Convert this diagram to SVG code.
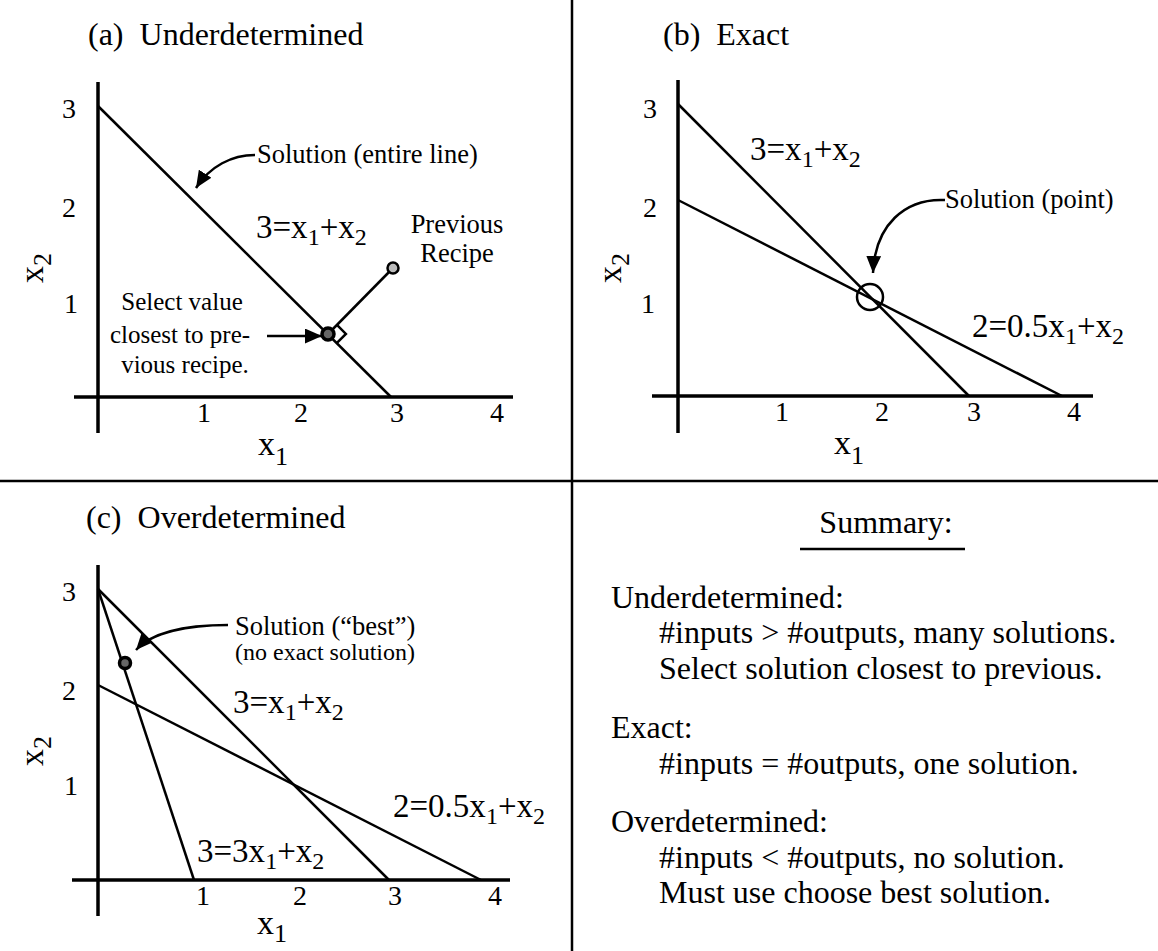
<svg xmlns="http://www.w3.org/2000/svg" width="1158" height="951" viewBox="0 0 1158 951">
<style>
text{font-family:"Liberation Serif","Times New Roman",serif;fill:#000}
.title{font-size:32px}
.tick{font-size:28px}
.axl{font-size:34px}
.axs{font-size:26px}
.eq{font-size:33px}
.sub{font-size:24px}
.ann{font-size:26.5px}
.sel{font-size:25px}
.ann2{font-size:24px}
.sum{font-size:32px}
.axis{stroke:#000;stroke-width:3.5;fill:none}
.ln{stroke:#000;stroke-width:2.5;fill:none}
.div{stroke:#000;stroke-width:2.5;fill:none}
.dot{fill:#666;stroke:#000;stroke-width:3.5}
</style>
<defs>
<marker id="ah" viewBox="0 0 16 14" refX="16" refY="7" markerWidth="17" markerHeight="15" markerUnits="userSpaceOnUse" orient="auto">
<path d="M0,0 L16,7 L0,14 Z" fill="#000"/>
</marker>
</defs>
<rect width="1158" height="951" fill="#fff"/>
<g id="dividers">
<line class="div" x1="572" y1="0" x2="572" y2="951"/>
<line class="div" x1="0" y1="481" x2="1158" y2="481"/>
</g>
<g id="panel-a">
<text class="title" x="88" y="45" xml:space="preserve">(a)  Underdetermined</text>
<line class="axis" x1="98" y1="82" x2="98" y2="433"/>
<line class="axis" x1="74" y1="397" x2="513" y2="397"/>
<text class="tick" x="69" y="118" text-anchor="middle">3</text>
<text class="tick" x="69" y="217" text-anchor="middle">2</text>
<text class="tick" x="71" y="313" text-anchor="middle">1</text>
<text class="tick" x="204" y="422" text-anchor="middle">1</text>
<text class="tick" x="301" y="422" text-anchor="middle">2</text>
<text class="tick" x="397" y="422" text-anchor="middle">3</text>
<text class="tick" x="497" y="422" text-anchor="middle">4</text>
<text class="axl" x="258" y="455">x<tspan class="axs" dy="10">1</tspan></text>
<text class="axl" transform="translate(43,283) rotate(-90)">x<tspan class="axs" dy="8">2</tspan></text>
<line class="ln" x1="98" y1="106" x2="391" y2="397"/>
<text class="eq" x="256" y="238">3=x<tspan class="sub" dy="7">1</tspan><tspan dy="-7">+x</tspan><tspan class="sub" dy="7">2</tspan></text>
<text class="ann" x="257" y="163">Solution (entire line)</text>
<text class="ann" x="457" y="233" text-anchor="middle">Previous</text>
<text class="ann" x="457" y="262" text-anchor="middle">Recipe</text>
<line class="ln" x1="393" y1="268" x2="328" y2="334"/>
<path class="ln" d="M336.7,324.7 L345.9,333.9 L336.7,343.1"/>
<circle cx="393" cy="268" r="5.5" fill="#bbb" stroke="#000" stroke-width="2.5"/>
<circle class="dot" cx="328" cy="334" r="6"/>
<text class="sel" x="182" y="310" text-anchor="middle">Select value</text>
<text class="sel" x="180" y="343" text-anchor="middle">closest to pre-</text>
<text class="sel" x="185" y="373" text-anchor="middle">vious recipe.</text>
</g>
<g id="panel-b">
<text class="title" x="663" y="45" xml:space="preserve">(b)  Exact</text>
<line class="axis" x1="678" y1="80" x2="678" y2="433"/>
<line class="axis" x1="652" y1="396" x2="1093" y2="396"/>
<text class="tick" x="650" y="118" text-anchor="middle">3</text>
<text class="tick" x="650" y="217" text-anchor="middle">2</text>
<text class="tick" x="648" y="313" text-anchor="middle">1</text>
<text class="tick" x="782" y="421" text-anchor="middle">1</text>
<text class="tick" x="882" y="421" text-anchor="middle">2</text>
<text class="tick" x="974" y="421" text-anchor="middle">3</text>
<text class="tick" x="1074" y="421" text-anchor="middle">4</text>
<text class="axl" x="834" y="454">x<tspan class="axs" dy="10">1</tspan></text>
<text class="axl" transform="translate(621,283) rotate(-90)">x<tspan class="axs" dy="8">2</tspan></text>
<line class="ln" x1="678" y1="104" x2="969" y2="396"/>
<line class="ln" x1="678" y1="200" x2="1062" y2="396"/>
<circle cx="870" cy="297" r="13" fill="none" stroke="#000" stroke-width="2.5"/>
<text class="eq" x="750" y="160">3=x<tspan class="sub" dy="7">1</tspan><tspan dy="-7">+x</tspan><tspan class="sub" dy="7">2</tspan></text>
<text class="eq" x="972" y="337">2=0.5x<tspan class="sub" dy="7">1</tspan><tspan dy="-7">+x</tspan><tspan class="sub" dy="7">2</tspan></text>
<text class="ann" x="945" y="208">Solution (point)</text>
</g>
<g id="panel-c">
<text class="title" x="86" y="528" xml:space="preserve">(c)  Overdetermined</text>
<line class="axis" x1="98" y1="565" x2="98" y2="916"/>
<line class="axis" x1="72" y1="880" x2="510" y2="880"/>
<text class="tick" x="69" y="601" text-anchor="middle">3</text>
<text class="tick" x="69" y="700" text-anchor="middle">2</text>
<text class="tick" x="71" y="795" text-anchor="middle">1</text>
<text class="tick" x="203" y="905" text-anchor="middle">1</text>
<text class="tick" x="300" y="905" text-anchor="middle">2</text>
<text class="tick" x="395" y="905" text-anchor="middle">3</text>
<text class="tick" x="495" y="905" text-anchor="middle">4</text>
<text class="axl" x="257" y="934">x<tspan class="axs" dy="8">1</tspan></text>
<text class="axl" transform="translate(43,766) rotate(-90)">x<tspan class="axs" dy="8">2</tspan></text>
<line class="ln" x1="98" y1="589" x2="389" y2="880"/>
<line class="ln" x1="98" y1="589" x2="194" y2="880"/>
<line class="ln" x1="98" y1="685" x2="481" y2="880"/>
<circle class="dot" cx="125" cy="663" r="5.5"/>
<text class="ann" x="235" y="635">Solution (“best”)</text>
<text class="ann2" x="235" y="660">(no exact solution)</text>
<text class="eq" x="233" y="713">3=x<tspan class="sub" dy="7">1</tspan><tspan dy="-7">+x</tspan><tspan class="sub" dy="7">2</tspan></text>
<text class="eq" x="393" y="817">2=0.5x<tspan class="sub" dy="7">1</tspan><tspan dy="-7">+x</tspan><tspan class="sub" dy="7">2</tspan></text>
<text class="eq" x="197" y="862">3=3x<tspan class="sub" dy="7">1</tspan><tspan dy="-7">+x</tspan><tspan class="sub" dy="7">2</tspan></text>
</g>
<g id="summary">
<text class="sum" x="886" y="533" text-anchor="middle">Summary:</text>
<line class="div" x1="800" y1="549" x2="965" y2="549"/>
<text class="sum" x="611" y="608">Underdetermined:</text>
<text class="sum" x="659" y="643">#inputs &gt; #outputs, many solutions.</text>
<text class="sum" x="659" y="679">Select solution closest to previous.</text>
<text class="sum" x="611" y="738">Exact:</text>
<text class="sum" x="659" y="774">#inputs = #outputs, one solution.</text>
<text class="sum" x="611" y="832">Overdetermined:</text>
<text class="sum" x="659" y="868">#inputs &lt; #outputs, no solution.</text>
<text class="sum" x="659" y="903">Must use choose best solution.</text>
</g>
<g id="connectors">
<path class="ln" d="M255,155 C232,155 210,166 196,188" marker-end="url(#ah)"/>
<line class="ln" x1="267" y1="336" x2="322" y2="336" marker-end="url(#ah)"/>
<path class="ln" d="M945,200 C905,198 875,225 873,273" marker-end="url(#ah)"/>
<path class="ln" d="M228,625 C188,625 152,632 136,650" marker-end="url(#ah)"/>
</g>
</svg>
